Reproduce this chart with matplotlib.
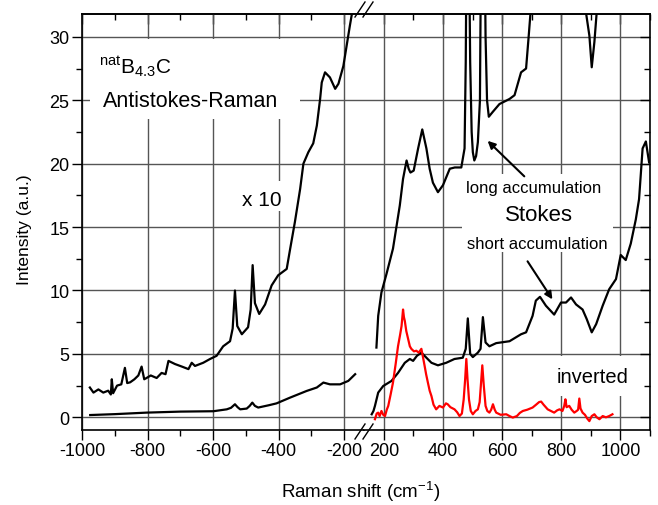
import numpy as np
import matplotlib
matplotlib.use('Agg')
import matplotlib.pyplot as plt
from matplotlib.lines import Line2D
from matplotlib.patches import Rectangle
from matplotlib.ticker import MultipleLocator

plt.rcParams['font.family'] = ['Liberation Sans', 'DejaVu Sans']
plt.rcParams['mathtext.default'] = 'regular'
plt.rcParams['axes.unicode_minus'] = False

# antistokes side (negative shifts) as (shift, intensity)
antistokes_x10 = [(-976, 2.35), (-965, 1.95), (-950, 2.2), (-935, 1.95), (-920, 2.1), (-912, 1.8),
                  (-909, 3.0), (-905, 1.9), (-893, 2.5), (-880, 2.6), (-869, 3.9), (-862, 2.7),
                  (-853, 2.76), (-840, 3.0), (-828, 3.3), (-818, 4.0), (-810, 3.0), (-803, 3.1),
                  (-790, 3.3), (-772, 3.1), (-757, 3.5), (-745, 3.4), (-736, 4.45), (-716, 4.2),
                  (-695, 4.0), (-675, 3.8), (-665, 4.3), (-655, 4.05), (-630, 4.3), (-609, 4.6),
                  (-589, 4.85), (-569, 5.6), (-548, 6.0), (-540, 7.0), (-533, 10.0), (-526, 7.2),
                  (-512, 6.55), (-493, 7.1), (-485, 8.5), (-479, 12.0), (-472, 9.0), (-459, 8.15),
                  (-441, 8.9), (-421, 10.4), (-401, 11.2), (-375, 11.7), (-365, 13.2), (-350, 15.4),
                  (-334, 18.0), (-324, 20.0), (-309, 20.9), (-294, 21.6), (-283, 23.0), (-273, 25.1),
                  (-268, 26.4), (-258, 27.2), (-243, 26.8), (-227, 25.9), (-217, 26.3), (-202, 27.7),
                  (-192, 29.3), (-182, 30.9), (-176, 31.8), (-170, 33.5)]

antistokes = [(-975, 0.18), (-900, 0.25), (-803, 0.37), (-700, 0.45), (-599, 0.48), (-558, 0.63),
              (-545, 0.75), (-533, 1.03), (-525, 0.8), (-517, 0.63), (-497, 0.69), (-488, 0.9),
              (-480, 1.16), (-472, 0.9), (-462, 0.77), (-430, 0.95), (-406, 1.1), (-365, 1.55),
              (-314, 2.08), (-283, 2.35), (-263, 2.74), (-243, 2.6), (-212, 2.6), (-187, 2.87),
              (-166, 3.4)]

# stokes side
stokes_long = [(175, 5.5), (181, 8.0), (192, 9.85), (209, 11.3), (231, 13.3), (254, 16.7),
               (265, 18.8), (277, 20.25), (284, 19.6), (290, 19.3), (301, 19.45), (316, 21.2),
               (330, 22.7), (344, 21.2), (355, 19.6), (366, 18.5), (383, 17.75), (400, 18.3),
               (423, 19.6), (440, 19.7), (462, 19.7), (473, 21.2), (477, 28), (482, 45),
               (487, 40), (492, 28), (497, 22.5), (501, 20.9), (506, 20.25), (512, 20.6),
               (518, 21.7), (525, 25), (531, 45), (538, 45), (544, 30), (549, 25), (555, 23.7),
               (569, 24.1), (591, 24.7), (625, 25.1), (642, 25.4), (653, 26.3), (664, 27.2),
               (681, 27.5), (690, 30.1), (698, 32.5), (720, 40), (800, 40), (870, 40), (883, 32),
               (895, 30.1), (903, 27.6), (912, 29.6), (920, 32), (940, 40), (975, 40)]

stokes_short = [(159, 0.24), (165, 0.5), (170, 0.9), (181, 1.95), (198, 2.47), (226, 2.87),
                (248, 3.5), (271, 4.3), (288, 4.6), (299, 4.45), (312, 4.85), (327, 5.1),
                (344, 4.7), (361, 4.3), (383, 4.1), (411, 4.3), (439, 4.6), (467, 4.7),
                (477, 5.4), (484, 7.8), (492, 5.0), (501, 4.75), (518, 5.1), (527, 5.4),
                (535, 7.9), (544, 5.9), (557, 5.6), (580, 5.85), (625, 6.0), (664, 6.55),
                (681, 6.7), (703, 8.0), (714, 9.2), (728, 9.5), (748, 8.8), (776, 8.1),
                (799, 9.05), (816, 9.05), (833, 9.45), (850, 8.9), (872, 8.5), (886, 7.75),
                (903, 6.7), (918, 7.35), (940, 8.8), (962, 10.1), (985, 10.9), (1001, 12.8),
                (1018, 12.4), (1035, 13.7), (1052, 15.6), (1063, 17.2), (1075, 21.2),
                (1086, 21.75), (1097, 20.1)]

inverted = [(170, -0.15), (176, 0.3), (181, 0.37), (186, 0.1), (192, 0.5), (198, 0.2), (204, 0.1),
            (210, 0.6), (215, 0.9), (223, 1.8), (231, 2.74), (240, 4.2), (248, 5.6), (255, 6.5),
            (260, 7.2), (265, 8.5), (268, 7.9), (271, 7.6), (276, 6.8), (282, 6.2), (288, 5.6),
            (293, 5.4), (302, 5.2), (310, 5.25), (318, 5.1), (327, 5.4), (332, 4.8), (338, 4.05),
            (343, 3.4), (349, 2.74), (355, 2.1), (361, 1.68), (368, 1.0), (377, 0.63), (388, 0.9),
            (400, 0.77), (410, 1.1), (416, 1.03), (425, 0.8), (439, 0.63), (448, 0.4), (456, 0.1),
            (464, 0.3), (470, 1.4), (475, 3.0), (479, 4.6), (483, 3.0), (488, 1.4), (494, 0.5),
            (501, 0.24), (510, 0.5), (518, 0.63), (524, 1.2), (529, 2.8), (533, 4.1), (538, 2.5),
            (544, 0.9), (550, 0.5), (557, 0.37), (563, 0.6), (569, 1.03), (575, 0.6), (580, 0.37),
            (595, 0.2), (614, 0.24), (625, 0.1), (636, -0.02), (650, 0.1), (660, 0.35), (670, 0.5),
            (685, 0.6), (703, 0.77), (715, 1.0), (725, 1.2), (732, 1.24), (740, 1.0), (754, 0.63),
            (765, 0.5), (776, 0.37), (786, 0.55), (794, 0.63), (804, 0.5), (810, 0.9), (814, 1.42),
            (818, 0.8), (827, 0.9), (835, 0.6), (844, 0.37), (852, 0.5), (857, 0.6), (861, 1.48),
            (865, 0.7), (872, 0.37), (880, 0.2), (888, -0.1), (895, -0.3), (903, 0.1), (912, 0.24),
            (920, 0.0), (929, -0.15), (940, 0.1), (951, 0.0), (962, 0.1), (973, 0.24)]

left_ticks = [-1000, -800, -600, -400, -200]
right_ticks = [200, 400, 600, 800, 1000]
y_ticks = [0, 5, 10, 15, 20, 25, 30]

W, H = 658.0, 506.0
def px_box(x0, x1, top, bottom):
    return [x0 / W, 1 - bottom / H, (x1 - x0) / W, (bottom - top) / H]

fig = plt.figure(figsize=(W / 100, H / 100), dpi=100)
ax1 = fig.add_axes(px_box(82, 364, 15, 431))
ax2 = fig.add_axes(px_box(364, 650, 15, 431), sharey=ax1)

ax1.set_xlim(-1000, -139)
ax2.set_xlim(133, 1100)
ax1.set_ylim(-1, 31.8)

for ax, ticks in ((ax1, left_ticks), (ax2, right_ticks)):
    ax.set_xticks(ticks)
    ax.xaxis.set_minor_locator(MultipleLocator(100))
    ax.set_yticks(y_ticks)
    ax.yaxis.set_minor_locator(MultipleLocator(2.5))
    ax.grid(True, which='major', color='#555555', lw=1)
    ax.tick_params(axis='x', which='major', direction='out', length=7, width=1, labelsize=13, pad=2)
    ax.tick_params(axis='x', which='minor', direction='out', length=4, width=1)
    for s in ax.spines.values():
        s.set_linewidth(1.2)
    top = ax.secondary_xaxis('top')
    top.set_xticks(ticks)
    top.xaxis.set_minor_locator(MultipleLocator(100))
    top.tick_params(which='major', direction='in', length=7, width=1, labeltop=False)
    top.tick_params(which='minor', direction='in', length=4, width=1)
    top.spines['top'].set_linewidth(1.2)

ax1.spines['right'].set_visible(False)
ax2.spines['left'].set_visible(False)
ax1.tick_params(axis='y', which='major', direction='out', length=7, width=1, labelsize=13, pad=2)
ax1.tick_params(axis='y', which='minor', direction='out', length=4, width=1)
ax2.yaxis.tick_right()
ax2.tick_params(axis='y', which='major', direction='in', length=7, width=1, labelright=False, labelleft=False)
ax2.tick_params(axis='y', which='minor', direction='in', length=4, width=1)

for ax, curve, col in ((ax1, antistokes_x10, 'k'), (ax1, antistokes, 'k'),
                       (ax2, stokes_long, 'k'), (ax2, stokes_short, 'k'), (ax2, inverted, 'red')):
    d = np.array(curve)
    ax.plot(d[:, 0], d[:, 1], color=col, lw=1.6, zorder=3)

# white backgrounds behind the labels (they break the grid in the original)
for ax, (x0, x1, y0, y1) in ((ax1, (0.028, 0.773, 0.748, 0.940)), (ax1, (0.546, 0.727, 0.526, 0.599)),
                             (ax2, (0.343, 0.871, 0.428, 0.615)), (ax2, (0.661, 0.955, 0.082, 0.178))):
    ax.add_patch(Rectangle((x0, y0), x1 - x0, y1 - y0, transform=ax.transAxes,
                           facecolor='white', edgecolor='none', zorder=2.2))

ax1.text(-948, 27.2, r'$^{nat}$B$_{4.3}$C', fontsize=15, ha='left', va='baseline', zorder=2.5)
ax1.text(-937, 25.0, 'Antistokes-Raman', fontsize=15.5, ha='left', va='center', zorder=2.5)
ax1.text(-452, 17.2, 'x 10', fontsize=15, ha='center', va='center', zorder=2.5)
ax2.text(706, 18.1, 'long accumulation', fontsize=12, ha='center', va='center', zorder=2.5)
ax2.text(724, 16.0, 'Stokes', fontsize=16, ha='center', va='center', zorder=2.5)
ax2.text(718, 13.7, 'short accumulation', fontsize=12, ha='center', va='center', zorder=2.5)
ax2.text(905, 3.24, 'inverted', fontsize=14.5, ha='center', va='center', zorder=2.5)

arrow = dict(arrowstyle='-|>', color='k', lw=1.5, mutation_scale=11, shrinkA=0, shrinkB=0)
ax2.annotate('', xy=(551, 21.8), xytext=(675, 19.0), arrowprops=arrow, zorder=4)
ax2.annotate('', xy=(770, 9.3), xytext=(686, 12.3), arrowprops=arrow, zorder=4)

fig.text(25 / W, 1 - 230 / H, 'Intensity (a.u.)', rotation=90, ha='center', va='center', fontsize=12.5)
fig.text(361 / W, 1 - 492 / H, 'Raman shift (cm$^{-1}$)', ha='center', va='center', fontsize=13.5)

# axis break marks
for dx in (0, 8):
    fig.add_artist(Line2D([(355 + dx) / W, (365 + dx) / W], [1 - 18 / H, 1 - 3 / H],
                          transform=fig.transFigure, color='k', lw=1))
    fig.add_artist(Line2D([(355 + dx) / W, (365 + dx) / W], [1 - 440 / H, 1 - 425 / H],
                          transform=fig.transFigure, color='k', lw=1))

fig.savefig('out.png', dpi=100)
